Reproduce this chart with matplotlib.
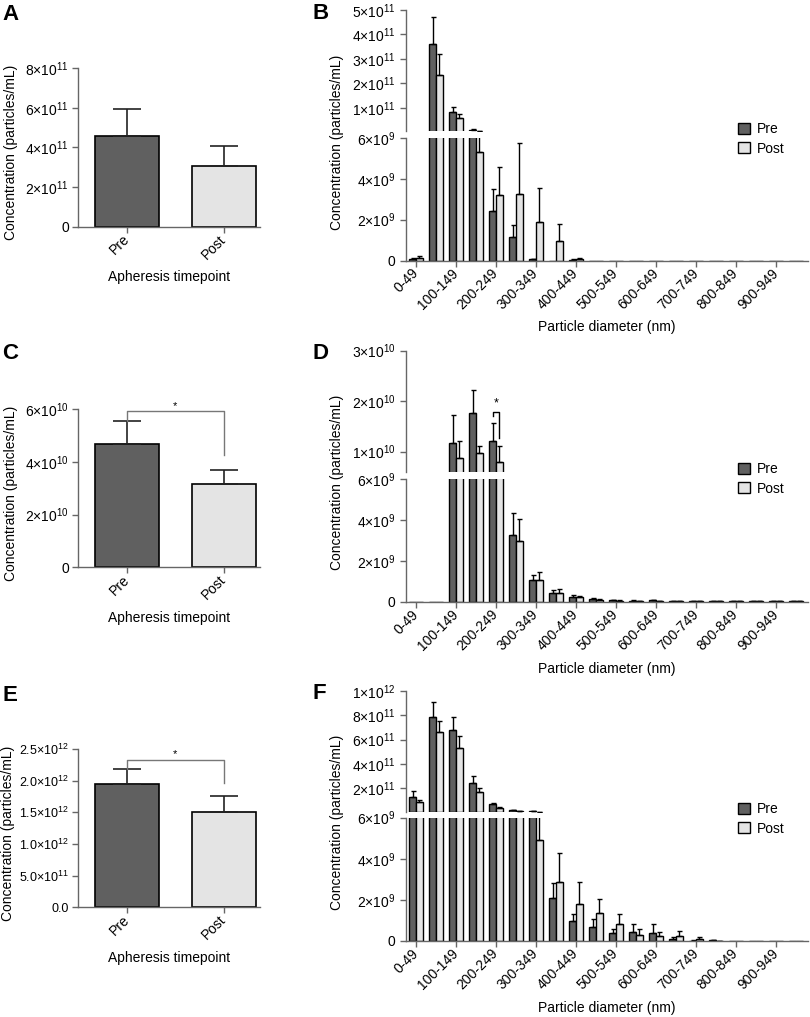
import matplotlib
matplotlib.use('Agg')
import matplotlib.pyplot as plt
import numpy as np

plt.rcParams['font.family'] = ['Liberation Sans', 'DejaVu Sans']
plt.rcParams['mathtext.fontset'] = 'custom'
plt.rcParams['mathtext.rm'] = 'Liberation Sans'
plt.rcParams['mathtext.it'] = 'Liberation Sans:italic'
plt.rcParams['mathtext.bf'] = 'Liberation Sans:bold'
plt.rcParams['font.size'] = 10

# ---- data ----
groups = ['Pre', 'Post']
bins = ['0-49', '50-99', '100-149', '150-199', '200-249', '250-299', '300-349',
        '350-399', '400-449', '450-499', '500-549', '550-599', '600-649', '650-699',
        '700-749', '750-799', '800-849', '850-899', '900-949', '950-999']

# panel A / C / E: mean and upper error
a_vals = [4.58e11, 3.08e11]
a_err = [1.35e11, 1.0e11]
c_vals = [4.67e10, 3.14e10]
c_err = [0.88e10, 0.56e10]
e_vals = [1.95e12, 1.51e12]
e_err = [0.23e12, 0.25e12]

# panel B
b_pre = [0.06e9, 3.61e11, 0.82e11, 1.1e10, 2.44e9, 1.15e9, 0.06e9, 0, 0.04e9, 0,
         0, 0, 0, 0, 0, 0, 0, 0, 0, 0]
b_pre_err = [0.04e9, 1.12e11, 0.24e11, 0.15e10, 1.07e9, 0.58e9, 0.02e9, 0, 0.01e9, 0,
             0, 0, 0, 0, 0, 0, 0, 0, 0, 0]
b_post = [0.12e9, 2.35e11, 0.59e11, 5.3e9, 3.22e9, 3.25e9, 1.87e9, 0.94e9, 0.07e9, 0,
          0, 0, 0, 0, 0, 0, 0, 0, 0, 0]
b_post_err = [0.12e9, 0.84e11, 0.18e11, 1.3e9, 1.35e9, 2.52e9, 1.68e9, 0.85e9, 0.03e9, 0,
              0, 0, 0, 0, 0, 0, 0, 0, 0, 0]

# panel D
d_pre = [0, 0, 1.17e10, 1.76e10, 1.21e10, 3.29e9, 1.07e9, 0.41e9, 0.25e9, 0.12e9,
         0.08e9, 0.05e9, 0.06e9, 0.04e9, 0.03e9, 0.02e9, 0.02e9, 0.02e9, 0.02e9, 0.02e9]
d_pre_err = [0, 0, 0.56e10, 0.46e10, 0.36e10, 1.06e9, 0.24e9, 0.15e9, 0.08e9, 0.04e9,
             0.02e9, 0.01e9, 0.01e9, 0.01e9, 0.01e9, 0.01e9, 0.01e9, 0.01e9, 0.01e9, 0.01e9]
d_post = [0, 0, 0.87e10, 0.97e10, 0.80e10, 2.96e9, 1.07e9, 0.41e9, 0.22e9, 0.10e9,
          0.04e9, 0.04e9, 0.03e9, 0.02e9, 0.02e9, 0.02e9, 0.02e9, 0.02e9, 0.02e9, 0.02e9]
d_post_err = [0, 0, 0.34e10, 0.13e10, 0.30e10, 1.11e9, 0.41e9, 0.19e9, 0.08e9, 0.04e9,
              0.02e9, 0.01e9, 0.01e9, 0.01e9, 0.01e9, 0.01e9, 0.01e9, 0.01e9, 0.01e9, 0.01e9]

# panel F
f_pre = [1.31e11, 7.9e11, 6.8e11, 2.46e11, 0.68e11, 1.6e10, 8e9, 2.1e9, 0.98e9, 0.70e9,
         0.37e9, 0.46e9, 0.41e9, 0.11e9, 0.02e9, 0.03e9, 0, 0, 0, 0]
f_pre_err = [0.47e11, 1.18e11, 1.1e11, 0.54e11, 0.12e11, 0.4e10, 1e9, 0.7e9, 0.35e9, 0.36e9,
             0.2e9, 0.39e9, 0.4e9, 0.1e9, 0.01e9, 0.01e9, 0, 0, 0, 0]
f_post = [0.85e11, 6.63e11, 5.29e11, 1.67e11, 0.35e11, 1.0e10, 4.9e9, 2.85e9, 1.82e9, 1.35e9,
          0.85e9, 0.31e9, 0.24e9, 0.24e9, 0.11e9, 0.01e9, 0, 0, 0, 0]
f_post_err = [0.19e11, 0.93e11, 1.0e11, 0.38e11, 0.1e11, 0.2e10, 1.6e9, 1.45e9, 1.03e9, 0.71e9,
              0.48e9, 0.26e9, 0.22e9, 0.25e9, 0.1e9, 0.01e9, 0, 0, 0, 0]

PRE = '#606060'
POST = '#e4e4e4'
SPINE = '#666666'
W, H = 810, 1017
BREAK = 6e9

fig = plt.figure(figsize=(W / 100, H / 100), dpi=100)


def fax(l, r, b, t):
    return fig.add_axes([l / W, 1 - b / H, (r - l) / W, (b - t) / H])


def sci(v):
    if v == 0:
        return '0'
    m, e = f'{v:.0e}'.split('e')
    return rf'${m}{{\times}}10^{{{int(e)}}}$'


def style(ax):
    for s in ['top', 'right']:
        ax.spines[s].set_visible(False)
    for s in ['left', 'bottom']:
        ax.spines[s].set_color(SPINE)
        ax.spines[s].set_linewidth(1.0)
    ax.tick_params(colors=SPINE, labelcolor='black', length=4, width=1)


def summary(rect, vals, errs, yticks, ylabels, sig=None, label_x=-0.33, tick_fs=10):
    ax = fax(*rect)
    x = np.arange(2)
    ax.bar(x, vals, width=0.66, color=[PRE, POST], edgecolor='black', linewidth=1.2)
    ax.errorbar(x, vals, yerr=[[0, 0], errs], fmt='none', ecolor='#222222',
                elinewidth=1.2, capsize=10, capthick=1.2)
    ax.set_xlim(-0.508, 1.371)
    ax.set_ylim(0, yticks[-1])
    ax.set_yticks(yticks)
    ax.set_yticklabels(ylabels, fontsize=tick_fs)
    ax.set_xticks(x)
    ax.set_xticklabels(groups, rotation=45, ha='right', va='center',
                       rotation_mode='anchor')
    style(ax)
    ax.tick_params(axis='y', pad=2.5)
    ax.set_xlabel('Apheresis timepoint', labelpad=6)
    ax.set_ylabel('Concentration (particles/mL)')
    ax.yaxis.set_label_coords(label_x, 0.47)
    if sig is not None:
        top, left_end, right_end, star_y = sig
        ax.plot([0, 0, 1, 1], [left_end, top, top, right_end], color='#777777',
                lw=1, clip_on=False)
        ax.text(0.49, star_y, '*', ha='center', va='center', fontsize=8, clip_on=False)
    return ax


def draw_bars(ax, x, vals, errs, shift, color, label, floor):
    m = vals > floor
    ax.bar(x[m] + shift, vals[m], 0.32, color=color, edgecolor='black', linewidth=1,
           label=label)
    m = (vals > 0) & (vals + errs > floor)
    ax.errorbar(x[m] + shift, vals[m], yerr=[np.zeros(m.sum()), errs[m]], fmt='none',
                ecolor='black', elinewidth=1, capsize=1.8, capthick=1)


def hist_panel(lower, upper, pre, pre_err, post, post_err, up_ticks, up_top, label_y):
    axl = fax(*lower)
    axu = fax(*upper)
    x = np.arange(len(bins))
    pre, pre_err = np.array(pre), np.array(pre_err)
    post, post_err = np.array(post), np.array(post_err)
    for ax, floor in ((axl, -1), (axu, BREAK)):
        draw_bars(ax, x, pre, pre_err, -0.17, PRE, 'Pre', floor)
        draw_bars(ax, x, post, post_err, 0.17, POST, 'Post', floor)
        ax.set_xlim(-0.5, 19.6)
        style(ax)
    axl.set_ylim(0, BREAK)
    lt = [0, 2e9, 4e9, 6e9]
    axl.set_yticks(lt)
    axl.set_yticklabels([sci(v) for v in lt])
    axl.set_xticks(x[::2])
    axl.set_xticklabels(bins[::2], rotation=45, ha='right', va='center',
                        rotation_mode='anchor')
    axl.set_xlabel('Particle diameter (nm)', labelpad=6)
    axu.set_ylim(BREAK, up_top)
    axu.set_yticks(up_ticks)
    axu.set_yticklabels([sci(v) for v in up_ticks])
    axu.spines['bottom'].set_visible(False)
    axu.tick_params(bottom=False, labelbottom=False)
    fig.text(337 / W, 1 - label_y / H, 'Concentration (particles/mL)', rotation=90,
             ha='center', va='center')
    axu.legend(loc='upper left', bbox_to_anchor=(738 / W, 1 - (label_y - 20) / H),
               bbox_transform=fig.transFigure, frameon=False, handlelength=0.85,
               handleheight=0.85, handletextpad=0.5, labelspacing=0.4, borderpad=0,
               borderaxespad=0)
    return axl, axu


# A
summary((78, 260, 226.7, 68.3), a_vals, a_err, [0, 2e11, 4e11, 6e11, 8e11],
        [sci(v) for v in [0, 2e11, 4e11, 6e11, 8e11]])
# C
summary((78, 260, 567.3, 409), c_vals, c_err, [0, 2e10, 4e10, 6e10],
        [sci(v) for v in [0, 2e10, 4e10, 6e10]], sig=(5.92e10, 5.55e10, 4.25e10, 6.1e10))
# E
e_ticks = [0, 0.5e12, 1.0e12, 1.5e12, 2.0e12, 2.5e12]
e_labels = ['0.0', r'$5.0{\times}10^{11}$', r'$1.0{\times}10^{12}$', r'$1.5{\times}10^{12}$',
            r'$2.0{\times}10^{12}$', r'$2.5{\times}10^{12}$']
summary((78, 260, 907.3, 749), e_vals, e_err, e_ticks, e_labels,
        sig=(2.33e12, 2.18e12, 1.97e12, 2.42e12), label_x=-0.345, tick_fs=9)

# B
hist_panel((406, 808, 260.5, 138), (406, 808, 131, 10), b_pre, b_pre_err, b_post, b_post_err,
           [1e11, 2e11, 3e11, 4e11, 5e11], 5e11, 142)
# D
dl, du = hist_panel((406, 808, 601.7, 479.3), (406, 808, 471.7, 350.7), d_pre, d_pre_err,
                    d_post, d_post_err, [1e10, 2e10, 3e10], 3e10, 482)
du.plot([4 - 0.17, 4 - 0.17, 4 + 0.17, 4 + 0.17], [1.71e10, 1.79e10, 1.79e10, 1.26e10],
        color='black', lw=1)
du.text(4, 1.96e10, '*', ha='center', va='center', fontsize=9)
# F
hist_panel((406, 808, 941, 817.7), (406, 808, 811.7, 691), f_pre, f_pre_err, f_post, f_post_err,
           [2e11, 4e11, 6e11, 8e11, 1e12], 1e12, 822)

# panel letters
for letter, px, py in [('A', 2, 20), ('B', 312, 19), ('C', 2, 359), ('D', 312, 359),
                       ('E', 2, 701), ('F', 312, 699)]:
    fig.text(px / W, 1 - py / H, letter, fontsize=16, fontweight='bold', va='baseline')

fig.savefig('out.png', dpi=100)
